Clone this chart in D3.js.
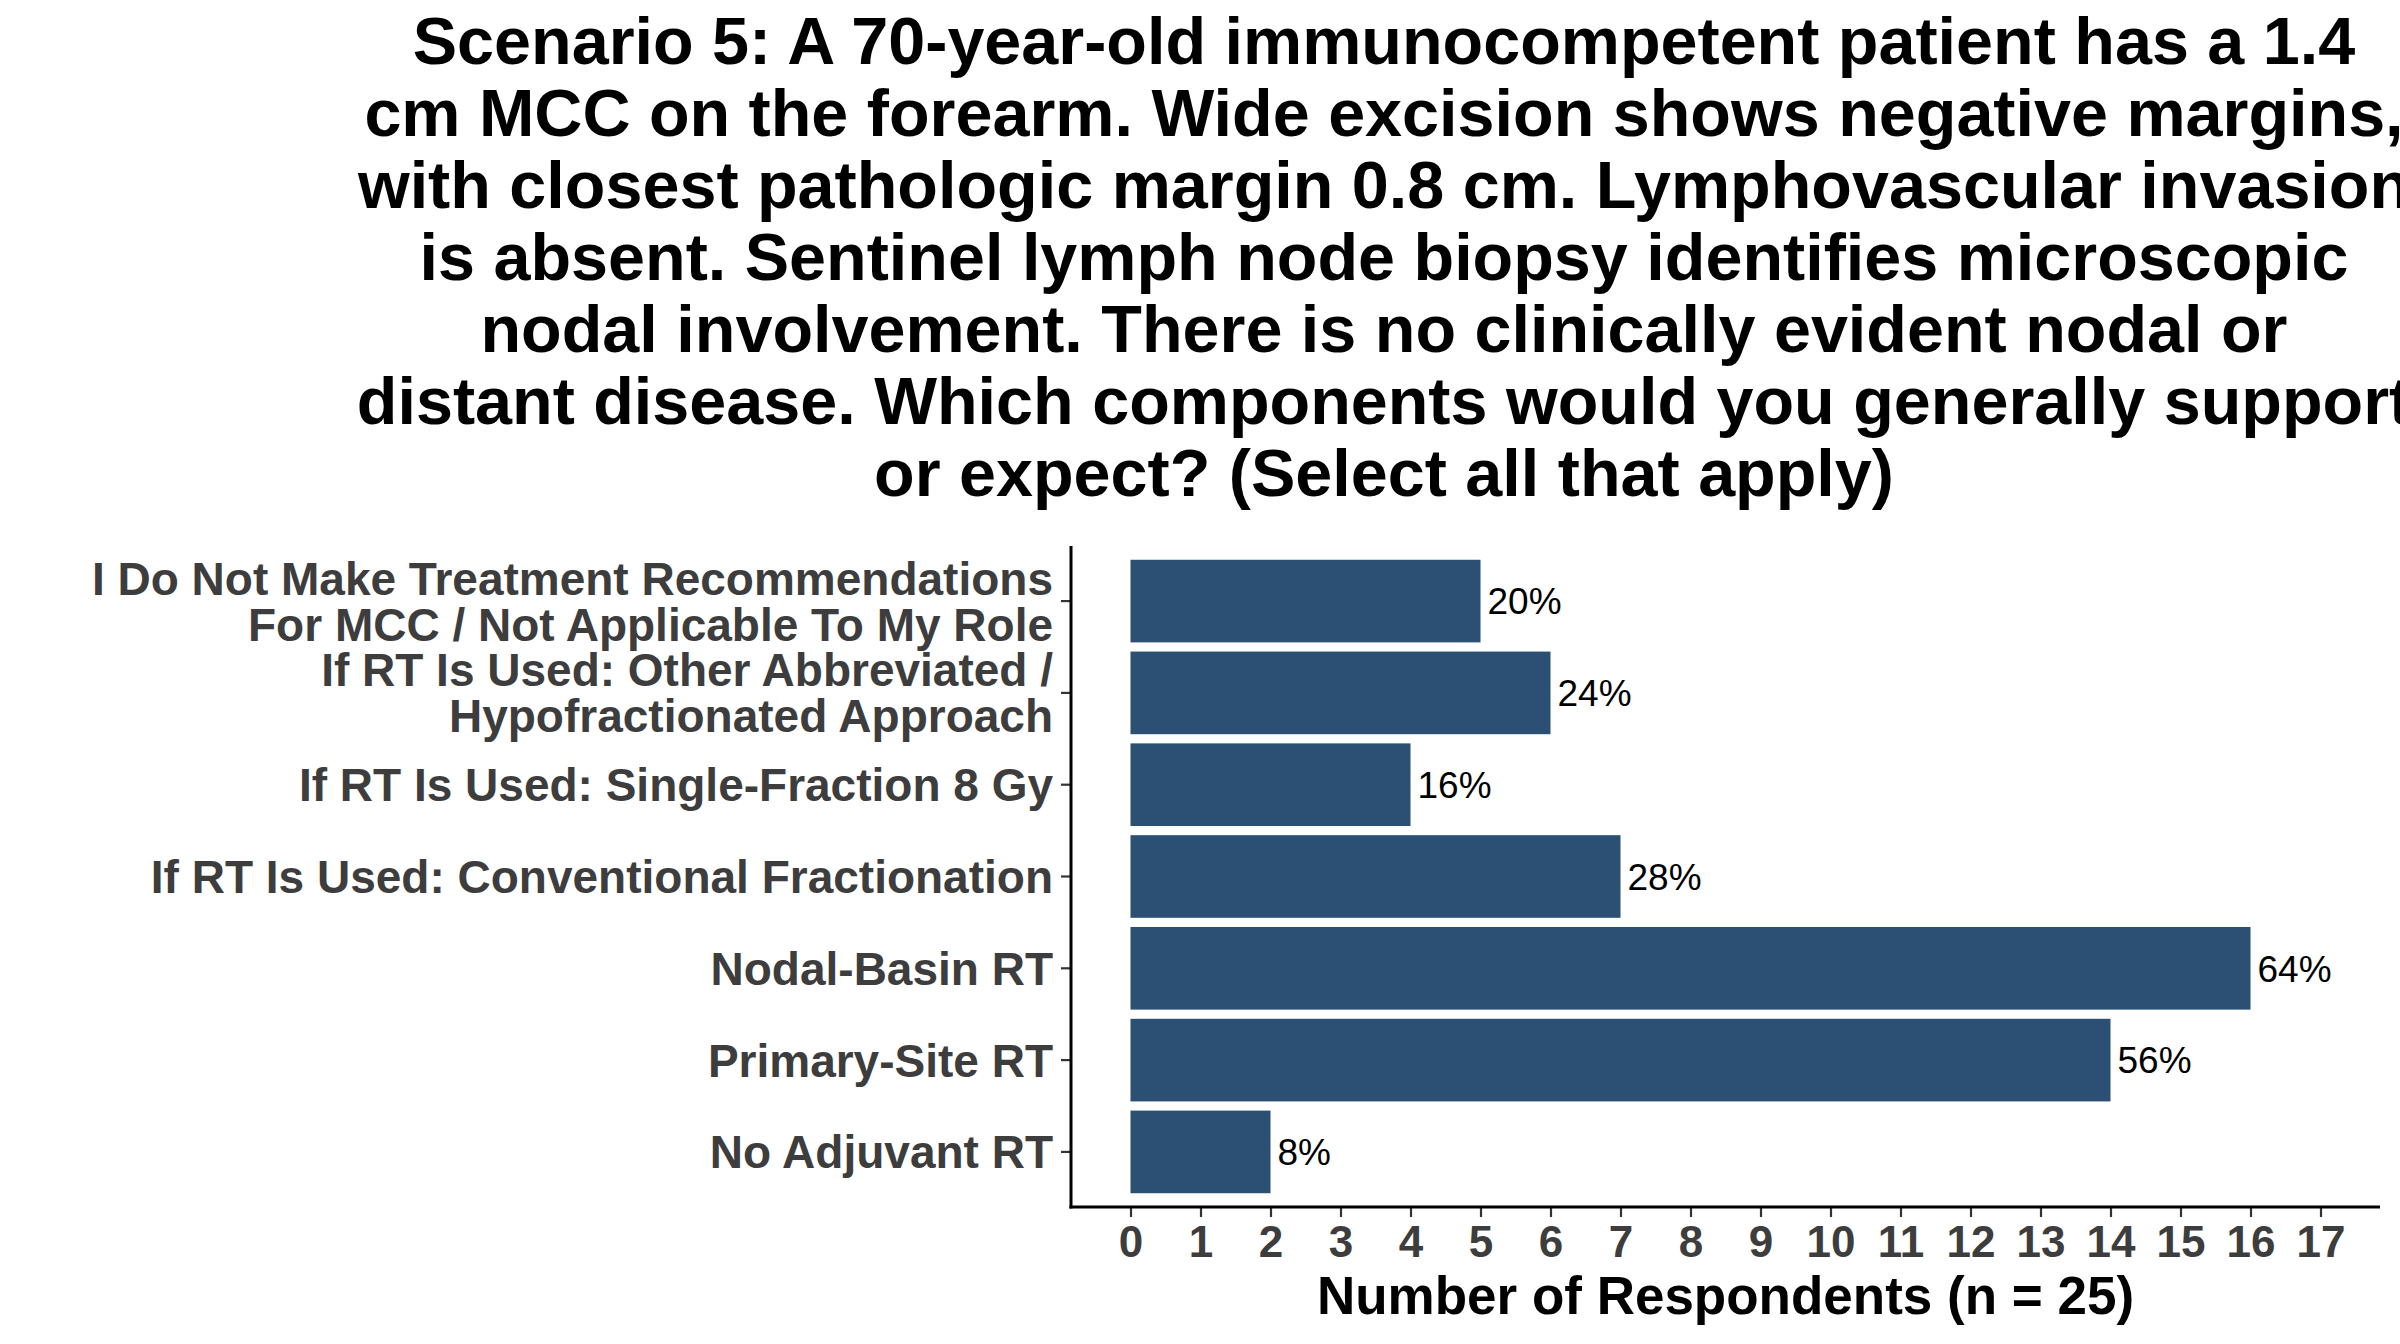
<!DOCTYPE html>
<html>
<head>
<meta charset="utf-8">
<script src="https://cdn.jsdelivr.net/npm/d3@7"></script>
<style>
  body { margin: 0; background: #fff; }
  svg { display: block; }
</style>
</head>
<body>
<div id="chart-area"></div>
<script>
// categories, top to bottom
var categories = [
    "I Do Not Make Treatment Recommendations\nFor MCC / Not Applicable To My Role",
    "If RT Is Used: Other Abbreviated /\nHypofractionated Approach",
    "If RT Is Used: Single-Fraction 8 Gy",
    "If RT Is Used: Conventional Fractionation",
    "Nodal-Basin RT",
    "Primary-Site RT",
    "No Adjuvant RT"
];
var counts = [5, 6, 4, 7, 16, 14, 2];
var percentLabels = ["20%", "24%", "16%", "28%", "64%", "56%", "8%"];
var xTicks = [0, 1, 2, 3, 4, 5, 6, 7, 8, 9, 10, 11, 12, 13, 14, 15, 16, 17];

var titleLines = [
    "Scenario 5: A 70-year-old immunocompetent patient has a 1.4",
    "cm MCC on the forearm. Wide excision shows negative margins,",
    "with closest pathologic margin 0.8 cm. Lymphovascular invasion",
    "is absent. Sentinel lymph node biopsy identifies microscopic",
    "nodal involvement. There is no clinically evident nodal or",
    "distant disease. Which components would you generally support",
    "or expect? (Select all that apply)"
];
var xTitle = "Number of Respondents (n = 25)";

var data = categories.map(function(c, i){
    return {name: c, count: counts[i], label: percentLabels[i]};
});

var W = 2400, H = 1344;
var margin = {left: 1071, right: 20, top: 546, bottom: 137};
var width = W - margin.left - margin.right;
var height = H - margin.top - margin.bottom;
var font = "'Liberation Sans', Arial, Helvetica, sans-serif";

var svg = d3.select("#chart-area")
    .append("svg")
    .attr("width", W)
    .attr("height", H);

// title
svg.append("text")
    .attr("x", 1384)
    .attr("y", 64)
    .attr("text-anchor", "middle")
    .attr("font-family", font)
    .attr("font-weight", "bold")
    .attr("font-size", "66.5px")
    .attr("fill", "#000")
    .selectAll("tspan")
    .data(titleLines)
    .enter()
    .append("tspan")
    .attr("x", 1384)
    .attr("dy", function(d, i){ return i == 0 ? 0 : 72; })
    .text(function(d){ return d; });

var g = svg.append("g")
    .attr("transform", "translate(" + margin.left + "," + margin.top + ")");

var x = d3.scaleLinear()
    .domain([-0.85, 17.85])
    .range([0, width]);

var y = d3.scaleBand()
    .domain(categories)
    .range([0, height])
    .paddingInner(0.1)
    .paddingOuter(0.15);

// bars
g.selectAll("rect.bar")
    .data(data)
    .enter()
    .append("rect")
    .attr("class", "bar")
    .attr("x", x(0))
    .attr("y", function(d){ return y(d.name); })
    .attr("width", function(d){ return x(d.count) - x(0); })
    .attr("height", y.bandwidth())
    .attr("fill", "#2c4f74");

// value labels
g.selectAll("text.val")
    .data(data)
    .enter()
    .append("text")
    .attr("class", "val")
    .attr("x", function(d){ return x(d.count) + 7; })
    .attr("y", function(d){ return y(d.name) + y.bandwidth() / 2; })
    .attr("dy", "0.36em")
    .attr("font-family", font)
    .attr("font-size", "37px")
    .attr("fill", "#000")
    .text(function(d){ return d.label; });

// x axis
var xAxisCall = d3.axisBottom(x)
    .tickValues(xTicks)
    .tickSize(10)
    .tickPadding(9)
    .tickFormat(d3.format("d"));
var xAxis = g.append("g")
    .attr("class", "x axis")
    .attr("transform", "translate(0," + height + ")")
    .call(xAxisCall);
xAxis.select(".domain").remove();
xAxis.selectAll(".tick line").attr("stroke", "#333").attr("stroke-width", 2.2);
xAxis.selectAll("text")
    .attr("font-family", font)
    .attr("font-weight", "bold")
    .attr("font-size", "44px")
    .attr("fill", "#3d3d3d");

// y axis
var yAxisCall = d3.axisLeft(y)
    .tickSize(10)
    .tickPadding(8)
    .tickFormat("");
var yAxis = g.append("g")
    .attr("class", "y axis")
    .call(yAxisCall);
yAxis.select(".domain").remove();
yAxis.selectAll(".tick line").attr("stroke", "#333").attr("stroke-width", 2.2);

yAxis.selectAll(".tick")
    .append("text")
    .attr("x", -18)
    .attr("text-anchor", "end")
    .attr("font-family", font)
    .attr("font-weight", "bold")
    .attr("font-size", "46px")
    .attr("fill", "#3d3d3d")
    .each(function(d){
        var lines = d.split("\n");
        var t = d3.select(this);
        var lh = 46;
        var start = -(lines.length - 1) * lh / 2;
        lines.forEach(function(l, i){
            t.append("tspan")
                .attr("x", -18)
                .attr("y", start + i * lh)
                .attr("dy", "0.36em")
                .text(l);
        });
    });

// axis lines
g.append("line")
    .attr("x1", 0).attr("x2", 0)
    .attr("y1", 0).attr("y2", height + 1.5)
    .attr("stroke", "#000")
    .attr("stroke-width", 3);
g.append("line")
    .attr("x1", -1.5).attr("x2", width)
    .attr("y1", height).attr("y2", height)
    .attr("stroke", "#000")
    .attr("stroke-width", 3);

// x axis title
g.append("text")
    .attr("x", width / 2)
    .attr("y", height + 107)
    .attr("text-anchor", "middle")
    .attr("font-family", font)
    .attr("font-weight", "bold")
    .attr("font-size", "53px")
    .attr("fill", "#000")
    .text(xTitle);
</script>
</body>
</html>
